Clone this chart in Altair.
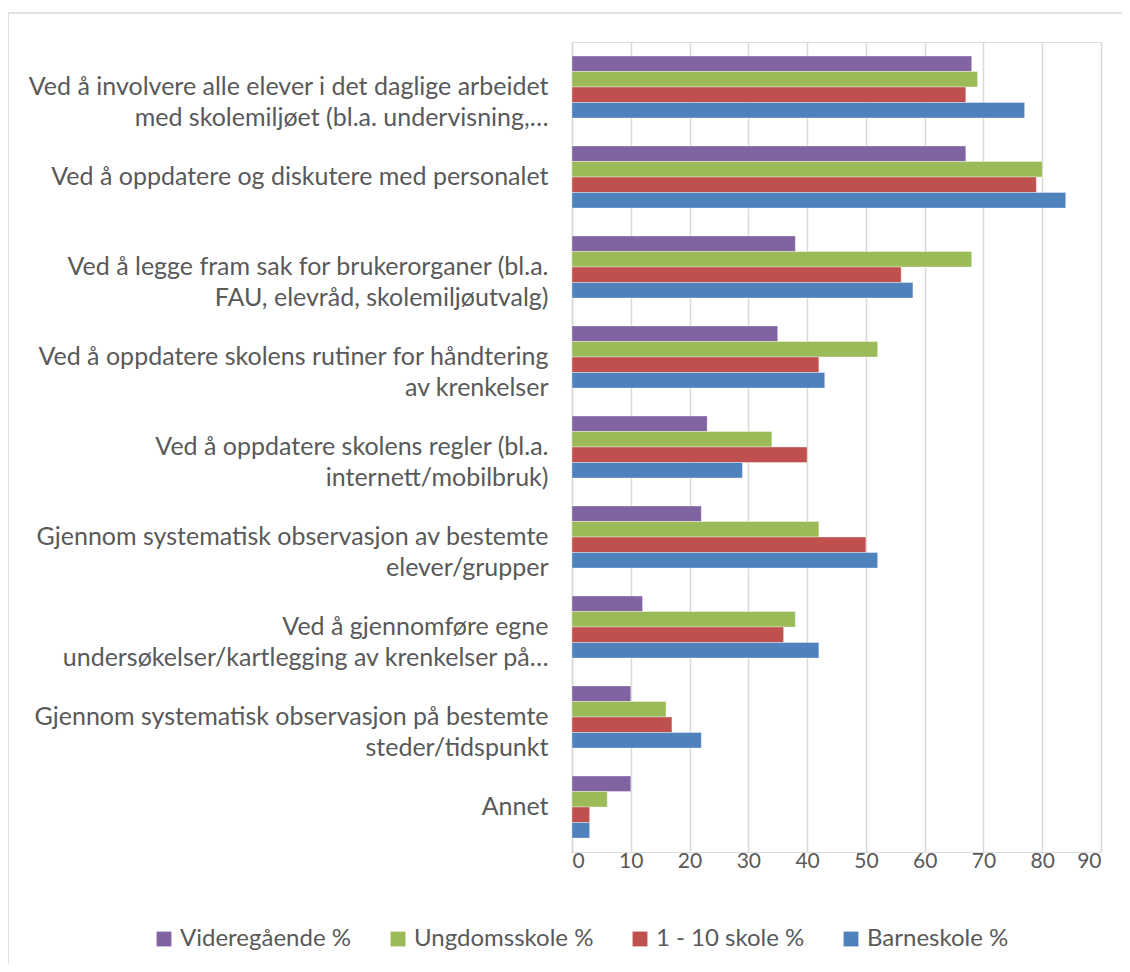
import altair as alt
import pandas as pd

categories = [
    "Ved å involvere alle elever i det daglige arbeidet\nmed skolemiljøet (bl.a. undervisning,…",
    "Ved å oppdatere og diskutere med personalet",
    "Ved å legge fram sak for brukerorganer (bl.a.\nFAU, elevråd, skolemiljøutvalg)",
    "Ved å oppdatere skolens rutiner for håndtering\nav krenkelser",
    "Ved å oppdatere skolens regler (bl.a.\ninternett/mobilbruk)",
    "Gjennom systematisk observasjon av bestemte\nelever/grupper",
    "Ved å gjennomføre egne\nundersøkelser/kartlegging av krenkelser på…",
    "Gjennom systematisk observasjon på bestemte\nsteder/tidspunkt",
    "Annet",
]
series = ["Videregående %", "Ungdomsskole %", "1 - 10 skole %", "Barneskole %"]
colors = ["#8064A2", "#9BBB59", "#C0504D", "#4F81BD"]

videregaende = [68, 67, 38, 35, 23, 22, 12, 10, 10]
ungdomsskole = [69, 80, 68, 52, 34, 42, 38, 16, 6]
en_ti_skole = [67, 79, 56, 42, 40, 50, 36, 17, 3]
barneskole = [77, 84, 58, 43, 29, 52, 42, 22, 3]

rows = []
for s, vals in zip(series, [videregaende, ungdomsskole, en_ti_skole, barneskole]):
    for c, v in zip(categories, vals):
        rows.append({"kategori": c, "serie": s, "verdi": v})
df = pd.DataFrame(rows)

FONT = "Lato, sans-serif"
TXT = "#595959"

bars = alt.Chart(df).mark_bar(stroke="white", strokeWidth=0.6, strokeOpacity=0.6).encode(
    x=alt.X("verdi:Q", scale=alt.Scale(domain=[0, 90], nice=False),
            axis=alt.Axis(values=list(range(0, 100, 10)), title=None, domain=False, ticks=False,
                          grid=True, gridColor="#d9d9d9", gridWidth=1.5,
                          labelFont=FONT, labelFontSize=21, labelColor=TXT, labelPadding=-2)),
    y=alt.Y("kategori:N", sort=categories,
            scale=alt.Scale(paddingInner=0.31, paddingOuter=0.155),
            axis=alt.Axis(title=None, domain=True, domainColor="#d9d9d9", domainWidth=1.5,
                          ticks=False, labelFont=FONT, labelFontSize=25, labelColor=TXT,
                          labelPadding=24, labelLimit=560, labelLineHeight=31,
                          labelExpr="split(datum.label, '\\n')")),
    yOffset=alt.YOffset("serie:N", sort=series),
    color=alt.Color("serie:N", sort=series,
                    scale=alt.Scale(domain=series, range=colors),
                    legend=alt.Legend(title=None, orient="none", legendX=-420, legendY=885,
                                      direction="horizontal", columns=4, symbolType="square",
                                      symbolSize=220, symbolStrokeWidth=0, labelFont=FONT,
                                      labelFontSize=24, labelColor=TXT, columnPadding=34,
                                      labelOffset=4, labelLimit=300)),
)

frame = alt.Chart(pd.DataFrame({"a": [0]})).mark_rect(
    fill=None, stroke="#d9d9d9", strokeWidth=1.5, clip=False
).encode(
    x=alt.value(-564), x2=alt.value(700), y=alt.value(-29), y2=alt.value(1100)
)

chart = alt.layer(frame, bars).properties(
    width=529, height=810,
    padding={"left": 564, "top": 34, "right": 21, "bottom": 112},
    autosize=alt.AutoSizeParams(type="none"),
).configure_view(stroke=None).configure(background="white")

chart.save("out.html", embed_options={"renderer": "svg", "actions": False})
